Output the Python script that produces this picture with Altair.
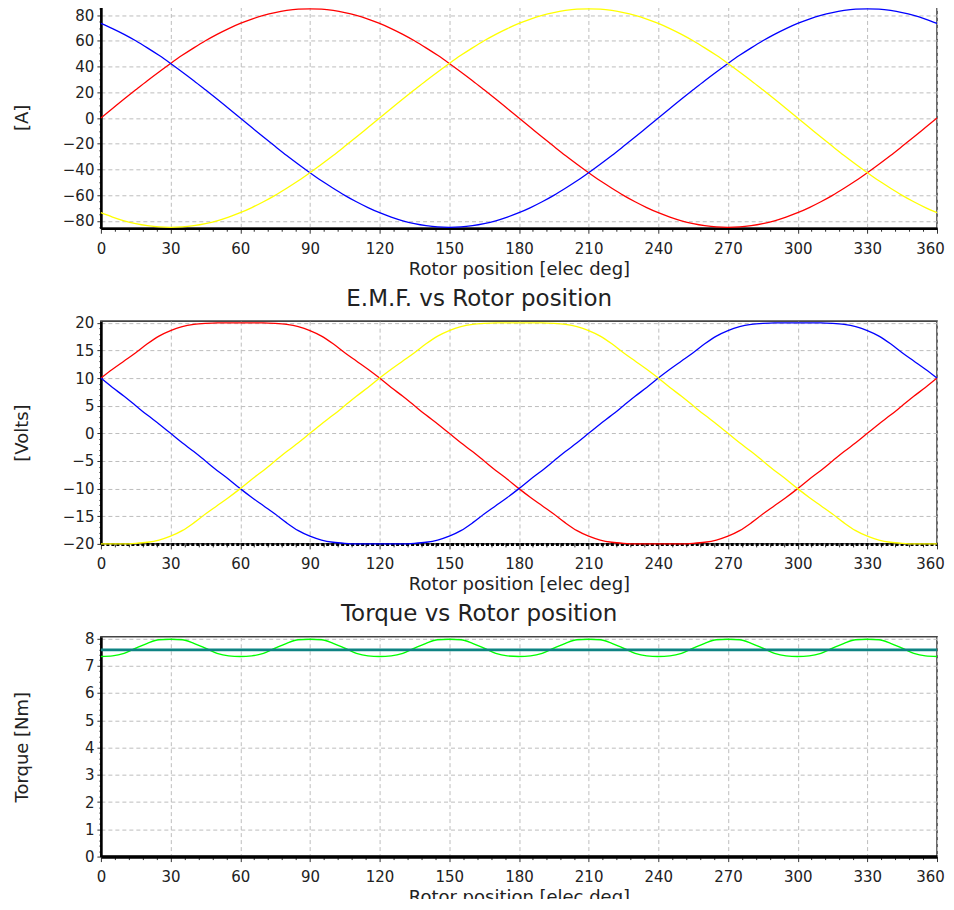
import altair as alt
import pandas as pd

# ---------------- data ----------------
angle = list(range(0, 361, 5))  # rotor position [elec deg]

current_a = [0.0, 7.4, 14.8, 22.0, 29.1, 35.9, 42.5, 48.8, 54.6, 60.1, 65.1, 69.6, 73.6, 77.0, 79.9, 82.1, 83.7, 84.7,
             85.0, 84.7, 83.7, 82.1, 79.9, 77.0, 73.6, 69.6, 65.1, 60.1, 54.6, 48.8, 42.5, 35.9, 29.1, 22.0, 14.8, 7.4,
             0.0, -7.4, -14.8, -22.0, -29.1, -35.9, -42.5, -48.8, -54.6, -60.1, -65.1, -69.6, -73.6, -77.0, -79.9, -82.1,
             -83.7, -84.7, -85.0, -84.7, -83.7, -82.1, -79.9, -77.0, -73.6, -69.6, -65.1, -60.1, -54.6, -48.8, -42.5,
             -35.9, -29.1, -22.0, -14.8, -7.4, 0.0]
current_b = [73.6, 69.6, 65.1, 60.1, 54.6, 48.8, 42.5, 35.9, 29.1, 22.0, 14.8, 7.4, 0.0, -7.4, -14.8, -22.0, -29.1,
             -35.9, -42.5, -48.8, -54.6, -60.1, -65.1, -69.6, -73.6, -77.0, -79.9, -82.1, -83.7, -84.7, -85.0, -84.7,
             -83.7, -82.1, -79.9, -77.0, -73.6, -69.6, -65.1, -60.1, -54.6, -48.8, -42.5, -35.9, -29.1, -22.0, -14.8,
             -7.4, 0.0, 7.4, 14.8, 22.0, 29.1, 35.9, 42.5, 48.8, 54.6, 60.1, 65.1, 69.6, 73.6, 77.0, 79.9, 82.1, 83.7,
             84.7, 85.0, 84.7, 83.7, 82.1, 79.9, 77.0, 73.6]
current_c = [-73.6, -77.0, -79.9, -82.1, -83.7, -84.7, -85.0, -84.7, -83.7, -82.1, -79.9, -77.0, -73.6, -69.6, -65.1,
             -60.1, -54.6, -48.8, -42.5, -35.9, -29.1, -22.0, -14.8, -7.4, 0.0, 7.4, 14.8, 22.0, 29.1, 35.9, 42.5, 48.8,
             54.6, 60.1, 65.1, 69.6, 73.6, 77.0, 79.9, 82.1, 83.7, 84.7, 85.0, 84.7, 83.7, 82.1, 79.9, 77.0, 73.6, 69.6,
             65.1, 60.1, 54.6, 48.8, 42.5, 35.9, 29.1, 22.0, 14.8, 7.4, 0.0, -7.4, -14.8, -22.0, -29.1, -35.9, -42.5,
             -48.8, -54.6, -60.1, -65.1, -69.6, -73.6]

emf_a = [10.0, 11.6, 13.1, 14.6, 16.2, 17.6, 18.6, 19.3, 19.7, 19.9, 20.0, 20.0, 20.0, 20.0, 20.0, 19.9, 19.7, 19.3,
         18.6, 17.6, 16.2, 14.6, 13.1, 11.6, 10.0, 8.3, 6.7, 5.0, 3.3, 1.7, 0.0, -1.7, -3.3, -5.0, -6.7, -8.3, -10.0,
         -11.6, -13.1, -14.6, -16.2, -17.6, -18.6, -19.3, -19.7, -19.9, -20.0, -20.0, -20.0, -20.0, -20.0, -19.9,
         -19.7, -19.3, -18.6, -17.6, -16.2, -14.6, -13.1, -11.6, -10.0, -8.3, -6.7, -5.0, -3.3, -1.7, 0.0, 1.7, 3.3,
         5.0, 6.7, 8.3, 10.0]
emf_b = [10.0, 8.3, 6.7, 5.0, 3.3, 1.7, 0.0, -1.7, -3.3, -5.0, -6.7, -8.3, -10.0, -11.6, -13.1, -14.6, -16.2, -17.6,
         -18.6, -19.3, -19.7, -19.9, -20.0, -20.0, -20.0, -20.0, -20.0, -19.9, -19.7, -19.3, -18.6, -17.6, -16.2,
         -14.6, -13.1, -11.6, -10.0, -8.3, -6.7, -5.0, -3.3, -1.7, 0.0, 1.7, 3.3, 5.0, 6.7, 8.3, 10.0, 11.6, 13.1,
         14.6, 16.2, 17.6, 18.6, 19.3, 19.7, 19.9, 20.0, 20.0, 20.0, 20.0, 20.0, 19.9, 19.7, 19.3, 18.6, 17.6, 16.2,
         14.6, 13.1, 11.6, 10.0]
emf_c = [-20.0, -20.0, -20.0, -19.9, -19.7, -19.3, -18.6, -17.6, -16.2, -14.6, -13.1, -11.6, -10.0, -8.3, -6.7, -5.0,
         -3.3, -1.7, 0.0, 1.7, 3.3, 5.0, 6.7, 8.3, 10.0, 11.6, 13.1, 14.6, 16.2, 17.6, 18.6, 19.3, 19.7, 19.9, 20.0,
         20.0, 20.0, 20.0, 20.0, 19.9, 19.7, 19.3, 18.6, 17.6, 16.2, 14.6, 13.1, 11.6, 10.0, 8.3, 6.7, 5.0, 3.3, 1.7,
         0.0, -1.7, -3.3, -5.0, -6.7, -8.3, -10.0, -11.6, -13.1, -14.6, -16.2, -17.6, -18.6, -19.3, -19.7, -19.9,
         -20.0, -20.0, -20.0]

torque = [7.34, 7.36, 7.45, 7.64, 7.82, 7.95, 7.97, 7.95, 7.82, 7.64, 7.45, 7.36,
          7.34, 7.36, 7.45, 7.64, 7.82, 7.95, 7.97, 7.95, 7.82, 7.64, 7.45, 7.36,
          7.34, 7.36, 7.45, 7.64, 7.82, 7.95, 7.97, 7.95, 7.82, 7.64, 7.45, 7.36,
          7.34, 7.36, 7.45, 7.64, 7.82, 7.95, 7.97, 7.95, 7.82, 7.64, 7.45, 7.36,
          7.34, 7.36, 7.45, 7.64, 7.82, 7.95, 7.97, 7.95, 7.82, 7.64, 7.45, 7.36,
          7.34, 7.36, 7.45, 7.64, 7.82, 7.95, 7.97, 7.95, 7.82, 7.64, 7.45, 7.36,
          7.34]
torque_mean = 7.58

phases = ["A", "B", "C"]
phase_colors = ["#FF0000", "#0000FF", "#FFFF00"]
torque_series = ["Torque", "Mean torque"]
torque_colors = ["#00FF00", "#0E8383"]
torque_widths = [1.4, 2.8]

x_ticks = list(range(0, 361, 6))
y1_ticks = list(range(-85, 86, 5))
y2_ticks = list(range(-20, 21, 1))
y3_ticks = [round(i * 0.2, 1) for i in range(41)]

# ---------------- tables ----------------
n = len(angle)
df_i = pd.DataFrame({"angle": angle * 3, "value": current_a + current_b + current_c,
                     "phase": [p for p in phases for _ in range(n)]})
df_e = pd.DataFrame({"angle": angle * 3, "value": emf_a + emf_b + emf_c,
                     "phase": [p for p in phases for _ in range(n)]})
df_t = pd.DataFrame({"angle": angle + [angle[0], angle[-1]],
                     "value": torque + [torque_mean, torque_mean],
                     "series": [torque_series[0]] * n + [torque_series[1]] * 2})

FONT = "DejaVu Sans"
W = 837


def x_axis(domain_width=2.6, domain_dash=None):
    kw = dict(
        values=x_ticks,
        labelExpr="datum.value % 30 === 0 ? datum.label : ''",
        labelOverlap=False,
        labelFlush=False,
        labelOffset={"condition": {"test": "datum.value === 360", "value": -7}, "value": 0},
        title="Rotor position [elec deg]",
        titleFont=FONT, titleFontSize=18, titleFontWeight="normal", titleColor="#222",
        titlePadding=4,
        labelFont=FONT, labelFontSize=15, labelColor="#222", labelPadding=8,
        tickColor="#333", tickWidth=1,
        tickSize={"condition": {"test": "datum.value % 30 === 0", "value": 5}, "value": 3},
        grid=True, gridColor="#bdbdbd", gridDash=[4, 3], gridWidth=1,
        gridOpacity={"condition": {"test": "datum.value % 30 === 0", "value": 1}, "value": 0},
        domainColor="#000000", domainWidth=domain_width,
    )
    if domain_dash:
        kw["domainDash"] = domain_dash
    return alt.Axis(**kw)


def y_axis(title, values, major_test):
    return alt.Axis(
        values=values,
        labelExpr=f"{major_test} ? format(datum.value, 'd') : ''",
        labelOverlap=False,
        labelFlush=False,
        title=title,
        titleFont=FONT, titleFontSize=18, titleFontWeight="normal", titleColor="#222",
        titlePadding=29, minExtent=40, maxExtent=40,
        labelFont=FONT, labelFontSize=15, labelColor="#222", labelPadding=3,
        tickColor="#333", tickWidth=1,
        tickSize={"condition": {"test": major_test, "value": 4}, "value": 2},
        grid=True, gridColor="#bdbdbd", gridDash=[4, 3], gridWidth=1,
        gridOpacity={"condition": {"test": major_test, "value": 1}, "value": 0},
        domainColor="#000000", domainWidth=2.6,
    )


def title(text):
    return alt.TitleParams(text, font=FONT, fontSize=23, fontWeight="normal", color="#222",
                           anchor="middle", frame="bounds", offset=5)


xscale = alt.Scale(domain=[0, 360], nice=False, zero=False)
color = alt.Color("phase:N", scale=alt.Scale(domain=phases, range=phase_colors), legend=None)

p1 = alt.Chart(df_i).mark_line(strokeWidth=1.3, interpolate="monotone").encode(
    x=alt.X("angle:Q", scale=xscale, axis=x_axis()),
    y=alt.Y("value:Q", scale=alt.Scale(domain=[-85.7, 86.8], nice=False, zero=False),
            axis=y_axis("[A]", y1_ticks, "datum.value % 20 === 0")),
    color=color,
    detail="phase:N",
).properties(width=W, height=222)

p2 = alt.Chart(df_e).mark_line(strokeWidth=1.3, interpolate="monotone").encode(
    x=alt.X("angle:Q", scale=xscale, axis=x_axis(domain_width=3, domain_dash=[3, 2])),
    y=alt.Y("value:Q", scale=alt.Scale(domain=[-20, 20.3], nice=False, zero=False),
            axis=y_axis("[Volts]", y2_ticks, "datum.value % 5 === 0")),
    color=color,
    detail="phase:N",
).properties(width=W, height=223, title=title("E.M.F. vs Rotor position"))

p3 = alt.Chart(df_t).mark_line(interpolate="monotone").encode(
    x=alt.X("angle:Q", scale=xscale, axis=x_axis(domain_width=3.6)),
    y=alt.Y("value:Q", scale=alt.Scale(domain=[0, 8.06], nice=False, zero=False),
            axis=y_axis("Torque [Nm]", y3_ticks, "datum.value % 1 === 0")),
    color=alt.Color("series:N", scale=alt.Scale(domain=torque_series, range=torque_colors), legend=None),
    strokeWidth=alt.StrokeWidth("series:N", scale=alt.Scale(domain=torque_series, range=torque_widths),
                                legend=None),
    detail="series:N",
).properties(width=W, height=220, title=title("Torque vs Rotor position"))

chart = alt.vconcat(p1, p2, p3, spacing=7).resolve_scale(
    color="independent", strokeWidth="independent"
).properties(
    padding={"left": 5, "top": -8, "right": 0, "bottom": -9},
    background="#FFFFFF",
).configure_view(stroke="#444444", strokeWidth=1.6)

chart.save("out.html", embed_options={"renderer": "svg", "actions": False})
